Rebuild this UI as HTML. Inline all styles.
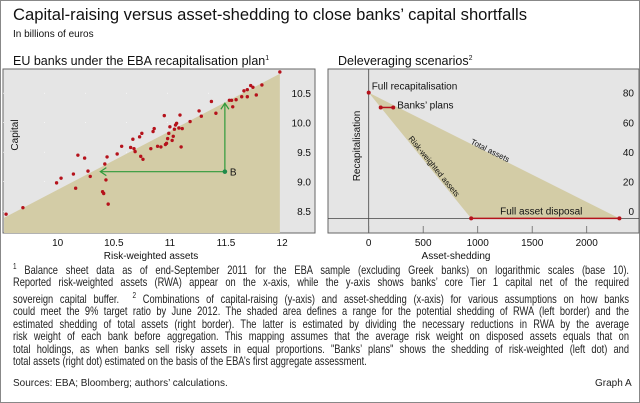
<!DOCTYPE html>
<html><head><meta charset="utf-8"><style>
body{margin:0;width:640px;height:403px;overflow:hidden;background:#fff;font-family:"Liberation Sans",Arial,sans-serif;}
#wrap{position:absolute;left:0;top:0;width:638px;height:401px;border:1px solid #888;}
.t{position:absolute;white-space:nowrap;color:#111;}
#notes{position:absolute;left:12px;top:260px;width:770px;font-size:11.6px;line-height:12.5px;color:#222;transform:scaleX(0.8);transform-origin:0 0;}
#notes div{text-align:justify;text-align-last:justify;white-space:nowrap;}
#notes div.last{text-align-last:left;}
</style></head><body>
<div id="wrap">
<div class="t" style="left:12px;top:4px;font-size:16.6px;">Capital-raising versus asset-shedding to close banks’ capital shortfalls</div>
<div class="t" style="left:12px;top:28px;font-size:10px;">In billions of euros</div>
<div class="t" style="left:12px;top:53px;font-size:12.5px;">EU banks under the EBA recapitalisation plan<sup style="font-size:7px">1</sup></div>
<div class="t" style="left:337px;top:53px;font-size:12.5px;">Deleveraging scenarios<sup style="font-size:7px">2</sup></div>
<svg id="chart" width="640" height="265" style="position:absolute;left:-1px;top:-1px;">
<g id="left"></g>
<g id="right"></g>
</svg>
<div id="notes">
<div><sup style="font-size:8px">1</sup> Balance sheet data as of end-September 2011 for the EBA sample (excluding Greek banks) on logarithmic scales (base 10).</div>
<div>Reported risk-weighted assets (RWA) appear on the x-axis, while the y-axis shows banks’ core Tier 1 capital net of the required</div>
<div>sovereign capital buffer. &nbsp;<sup style="font-size:8px">2</sup> Combinations of capital-raising (y-axis) and asset-shedding (x-axis) for various assumptions on how banks</div>
<div>could meet the 9% target ratio by June 2012. The shaded area defines a range for the potential shedding of RWA (left border) and the</div>
<div>estimated shedding of total assets (right border). The latter is estimated by dividing the necessary reductions in RWA by the average</div>
<div>risk weight of each bank before aggregation. This mapping assumes that the average risk weight on disposed assets equals that on</div>
<div>total holdings, as when banks sell risky assets in equal proportions. "Banks’ plans" shows the shedding of risk-weighted (left dot) and</div>
<div class="last">total assets (right dot) estimated on the basis of the EBA’s first aggregate assessment.</div>
</div>
<div class="t" style="left:12px;top:377px;font-size:10px;color:#222;">Sources: EBA; Bloomberg; authors’ calculations.</div>
<div class="t" style="left:594px;top:377px;font-size:10px;color:#222;">Graph A</div>
</div>
<script>
const bankRWA=[9.54,9.69,9.99,10.03,10.14,10.16,10.18,10.24,10.27,10.29,10.40,10.41,10.42,10.43,10.44,10.45,10.53,10.57,10.65,10.67,10.68,10.69,10.73,10.74,10.75,10.76,10.83,10.85,10.86,10.89,10.92,10.95,10.96,10.97,10.98,10.99,11.00,11.02,11.03,11.04,11.05,11.06,11.08,11.09,11.10,11.11,11.18,11.26,11.28,11.37,11.41,11.53,11.55,11.56,11.59,11.64,11.66,11.69,11.69,11.72,11.74,11.77,11.82,11.98];
const bankCapital=[8.45,8.56,8.98,9.06,9.13,8.89,9.45,9.40,9.18,9.09,8.83,8.80,9.30,9.03,9.42,8.62,9.47,9.60,9.58,9.72,9.56,9.51,9.76,9.43,9.82,9.38,9.56,9.85,9.90,9.60,9.59,10.12,9.63,9.65,9.73,9.82,9.93,9.70,9.77,9.89,9.96,9.99,9.91,10.13,9.59,9.90,10.02,10.20,10.11,10.36,10.16,10.38,10.38,10.27,10.39,10.44,10.54,10.44,10.56,10.63,10.60,10.47,10.64,10.86];
const leftXTicks=[10,10.5,11,11.5,12];
const leftYTicks=[8.5,9.0,9.5,10.0,10.5];
const frontierX=[9.54,11.98];
const frontierY=[8.39,10.83];
const bankB=[11.49,9.17];
const bankBTargets=[10.38,10.33];
const rightXTicks=[0,500,1000,1500,2000];
const rightYTicks=[0,20,40,60,80];
const scenarioShed=[0,940,2300];
const scenarioRecap=[80,-5,-5];
const plansShed=[110,225];
const plansRecap=[70,70];

const NS="http://www.w3.org/2000/svg";
function mk(p,tag,at,txt){const e=document.createElementNS(NS,tag);for(const k in at)e.setAttribute(k,at[k]);if(txt!==undefined)e.textContent=txt;p.appendChild(e);return e;}
const L=document.getElementById('left'),R=document.getElementById('right');
const lx=v=>57.7+(v-10)*112.2, ly=v=>122.7-(v-10)*59;
let e=mk(L,'rect',{x:3,y:69,width:312,height:164,fill:'#e5e5e5',stroke:'#666','stroke-width':1});

leftYTicks.forEach(v=>{mk(L,'line',{x1:3,x2:280,y1:ly(v),y2:ly(v),stroke:'#fff','stroke-width':0.7,'stroke-dasharray':'1 40'});});
e=mk(L,'polygon',{points:`${lx(frontierX[0])-2},${ly(frontierY[0])} ${lx(frontierX[1])},${ly(frontierY[1])} ${lx(frontierX[1])},233 ${lx(frontierX[0])-2},233`,fill:'#d3cca6'});

leftXTicks.forEach(v=>{const t=mk(L,'text',{x:lx(v),y:246,'font-size':10,'text-anchor':'middle',fill:'#111'},String(v));
});
leftYTicks.forEach(v=>{const t=mk(L,'text',{x:311,y:ly(v)+4,'font-size':10,'text-anchor':'end',fill:'#111'},v.toFixed(1));
});
e=mk(L,'text',{x:151,y:259,'font-size':10,'text-anchor':'middle',fill:'#111'},'Risk-weighted assets');

e=mk(L,'text',{x:0,y:0,'font-size':10,'text-anchor':'middle',fill:'#111',transform:'translate(18,135) rotate(-90)'},'Capital');

bankRWA.forEach((v,i)=>{const c=mk(L,'circle',{cx:lx(v),cy:ly(bankCapital[i]),r:1.7,fill:'#b5121b'});
});
const g='#2f9a3b';
const bx=lx(bankB[0]),by=ly(bankB[1]);
mk(L,'line',{x1:bx,y1:by,x2:lx(bankBTargets[0]),y2:by,stroke:g,'stroke-width':1.2});
mk(L,'polyline',{points:`${lx(bankBTargets[0])+6},${by-4} ${lx(bankBTargets[0])},${by} ${lx(bankBTargets[0])+6},${by+4}`,fill:'none',stroke:g,'stroke-width':1.2});
mk(L,'line',{x1:bx,y1:by,x2:bx,y2:ly(bankBTargets[1]),stroke:g,'stroke-width':1.2});
mk(L,'polyline',{points:`${bx-4},${ly(bankBTargets[1])+6} ${bx},${ly(bankBTargets[1])} ${bx+4},${ly(bankBTargets[1])+6}`,fill:'none',stroke:g,'stroke-width':1.2});
e=mk(L,'circle',{cx:bx,cy:by,r:2.3,fill:'#1f8a4a'});
e=mk(L,'text',{x:bx+5,y:by+4,'font-size':10,fill:'#111'},'B');

const rx=v=>368.7+v*0.109, ry=v=>211-v*1.479;
e=mk(R,'rect',{x:328,y:69,width:311,height:164,fill:'#e5e5e5',stroke:'#666','stroke-width':1});

e=mk(R,'polygon',{points:scenarioShed.map((v,i)=>rx(v)+','+ry(scenarioRecap[i])).join(' '),fill:'#d3cca6'});

mk(R,'line',{x1:rx(0),x2:rx(0),y1:69,y2:233,stroke:'#444','stroke-width':0.8});
mk(R,'line',{x1:328,x2:639,y1:ry(-5),y2:ry(-5),stroke:'#444','stroke-width':0.8});
rightXTicks.forEach(v=>{mk(R,'line',{x1:rx(v),x2:rx(v),y1:226,y2:233,stroke:'#666','stroke-width':0.8});
const t=mk(R,'text',{x:rx(v),y:246,'font-size':10,'text-anchor':'middle',fill:'#111'},String(v));
});
rightYTicks.forEach(v=>{const t=mk(R,'text',{x:634,y:ry(v)+4,'font-size':10,'text-anchor':'end',fill:'#111'},String(v));
});
e=mk(R,'text',{x:456,y:259,'font-size':10,'text-anchor':'middle',fill:'#111'},'Asset-shedding');

e=mk(R,'text',{x:0,y:0,'font-size':10,'text-anchor':'middle',fill:'#111',transform:'translate(360,146) rotate(-90)'},'Recapitalisation');

mk(R,'line',{x1:rx(scenarioShed[1]),x2:rx(scenarioShed[2]),y1:ry(scenarioRecap[1]),y2:ry(scenarioRecap[2]),stroke:'#b5121b','stroke-width':1.5});
mk(R,'line',{x1:rx(plansShed[0]),x2:rx(plansShed[1]),y1:ry(plansRecap[0]),y2:ry(plansRecap[1]),stroke:'#b5121b','stroke-width':1.5});
scenarioShed.forEach((v,i)=>{const c=mk(R,'circle',{cx:rx(v),cy:ry(scenarioRecap[i]),r:2,fill:'#b5121b'});});
plansShed.forEach((v,i)=>{const c=mk(R,'circle',{cx:rx(v),cy:ry(plansRecap[i]),r:2,fill:'#b5121b'});});
e=mk(R,'text',{x:rx(0)+3,y:ry(80)-3,'font-size':10,fill:'#111'},'Full recapitalisation');
e=mk(R,'text',{x:rx(plansShed[1])+4,y:ry(plansRecap[0])+1,'font-size':10,fill:'#111'},'Banks’ plans');
e=mk(R,'text',{x:(rx(scenarioShed[1])+rx(scenarioShed[2]))/2-4,y:ry(scenarioRecap[1])-4,'font-size':10,'text-anchor':'middle',fill:'#111'},'Full asset disposal');
e=mk(R,'text',{x:0,y:0,'font-size':8,'text-anchor':'middle',fill:'#111',transform:'translate(489,153) rotate(26.6)'},'Total assets');
e=mk(R,'text',{x:0,y:0,'font-size':8,'text-anchor':'middle',fill:'#111',transform:'translate(432,168) rotate(50.8)'},'Risk-weighted assets');
</script>
</body></html>
